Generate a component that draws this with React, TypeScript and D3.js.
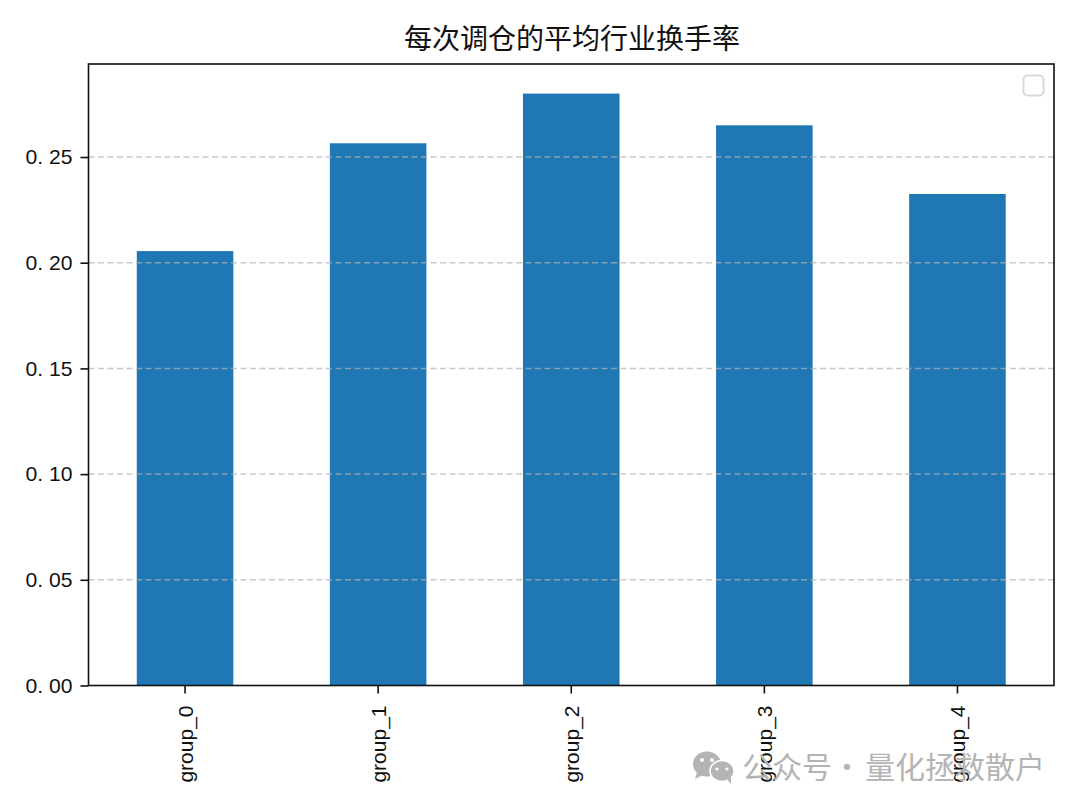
import { useEffect, useRef } from "react";
import * as d3 from "d3";

const WIDTH = 1080;
const HEIGHT = 810;
const MARGIN = { top: 64, right: 26, bottom: 124.5, left: 88.5 };

const TITLE = "每次调仓的平均行业换手率";
const WATERMARK_LEFT = "公众号";
const WATERMARK_DOT = "·";
const WATERMARK_RIGHT = "量化拯救散户";
const groups = ["group_0", "group_1", "group_2", "group_3", "group_4"];
const turnover = [0.2055, 0.2565, 0.28, 0.265, 0.2325];
const yTicks = [0, 0.05, 0.1, 0.15, 0.2, 0.25];

const FONT = "'Liberation Sans', sans-serif";

export default function App() {
  const axesRef = useRef<SVGGElement>(null);
  const boundsWidth = WIDTH - MARGIN.left - MARGIN.right;
  const boundsHeight = HEIGHT - MARGIN.top - MARGIN.bottom;

  const xScale = d3.scaleBand().domain(groups).range([0, boundsWidth]).paddingInner(0.5).paddingOuter(0.25);
  const yScale = d3.scaleLinear().domain([0, 0.294]).range([boundsHeight, 0]);

  useEffect(() => {
    const g = d3.select(axesRef.current);
    g.selectAll("*").remove();

    const xAxis = g
      .append("g")
      .attr("transform", `translate(0,${boundsHeight})`)
      .call(d3.axisBottom(xScale).tickSizeOuter(0).tickSize(8));
    xAxis.select(".domain").remove();
    xAxis.selectAll("line").attr("stroke", "#111").attr("stroke-width", 1.6);
    xAxis
      .selectAll("text")
      .attr("transform", "rotate(-90)")
      .attr("x", -20)
      .attr("y", 0)
      .attr("dy", "0.36em")
      .attr("text-anchor", "end")
      .attr("fill", "#111")
      .style("font", `21px ${FONT}`);

    const yAxis = g.append("g").call(
      d3.axisLeft(yScale).tickValues(yTicks).tickFormat((d) => d3.format(".2f")(d as number).replace(".", ". ")).tickSize(8)
    );
    yAxis.select(".domain").remove();
    yAxis.selectAll("line").attr("stroke", "#111").attr("stroke-width", 1.6);
    yAxis
      .selectAll("text")
      .attr("x", -16)
      .attr("textLength", 47)
      .attr("lengthAdjust", "spacingAndGlyphs")
      .attr("fill", "#111")
      .style("font", `21px ${FONT}`);
  }, []);

  return (
    <svg
      width={WIDTH}
      height={HEIGHT}
      style={{ position: "absolute", left: 0, top: 0, background: "#fff" }}
    >
      <text x={572} y={49} textAnchor="middle" fontFamily="'Noto Sans CJK SC'" fontSize={28} fill="#111">
        {TITLE}
      </text>
      <g transform={`translate(${MARGIN.left},${MARGIN.top})`}>
        {groups.map((d, i) => (
          <rect
            key={d}
            x={xScale(d)}
            y={yScale(turnover[i])}
            width={xScale.bandwidth()}
            height={boundsHeight - yScale(turnover[i])}
            fill="#1f77b4"
          />
        ))}
        {yTicks
          .filter((t) => t > 0)
          .map((t) => (
            <line
              key={t}
              x1={0}
              x2={boundsWidth}
              y1={yScale(t)}
              y2={yScale(t)}
              stroke="#b3b3b3"
              strokeOpacity={0.7}
              strokeWidth={1.5}
              strokeDasharray="6 3.5"
            />
          ))}
        <rect x={0} y={0} width={boundsWidth} height={boundsHeight} fill="none" stroke="#111" strokeWidth={1.6} />
        <g ref={axesRef} />
        <rect x={935} y={11.5} width={20} height={20} rx={4} fill="#fff" stroke="#d9d9d9" strokeWidth={2} />
      </g>
      <g fill="#b4b4b4">
        <ellipse cx={707} cy={764} rx={14} ry={12.5} />
        <path d="M697 772 l-2 7 l8 -4 z" />
        <ellipse cx={722} cy={771} rx={12} ry={10.5} stroke="#fff" strokeWidth={1.5} />
        <path d="M727 779 l4 5 l0 -7 z" />
        <circle cx={702} cy={760} r={2} fill="#fff" />
        <circle cx={712} cy={760} r={2} fill="#fff" />
        <circle cx={717} cy={769} r={1.6} fill="#fff" />
        <circle cx={727} cy={769} r={1.6} fill="#fff" />
      </g>
      <g fontFamily="'Noto Sans CJK SC'" fontSize={30} fill="#b4b4b4">
        <text x={742} y={778}>{WATERMARK_LEFT}</text>
        <text x={847} y={778} textAnchor="middle">{WATERMARK_DOT}</text>
        <text x={865} y={778}>{WATERMARK_RIGHT}</text>
      </g>
    </svg>
  );
}
